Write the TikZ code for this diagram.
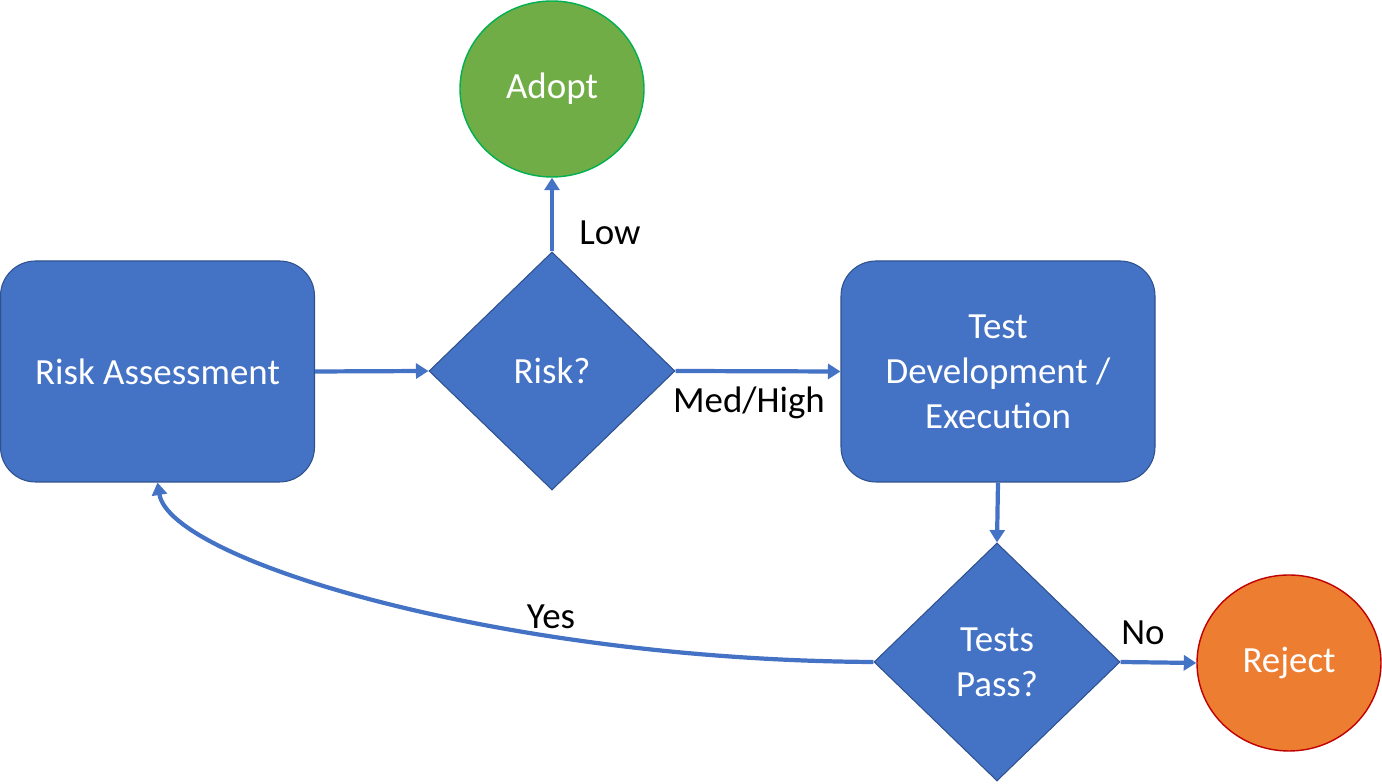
\documentclass[tikz,border=0pt]{standalone}
\usepackage{fontspec}
\setmainfont{Carlito}
\usepackage{tikz}
\usetikzlibrary{arrows.meta, shapes.geometric}
\definecolor{kblue}{HTML}{4472C4}
\definecolor{kbluedark}{HTML}{2F528F}
\definecolor{kgreen}{HTML}{70AD47}
\definecolor{kgreenline}{HTML}{00B050}
\definecolor{korange}{HTML}{ED7D31}
\definecolor{kred}{HTML}{C00000}

\begin{document}
\begin{tikzpicture}[x=1cm, y=1cm,
  bigfont/.style={font=\fontsize{21}{25.6}\selectfont},
  stepbox/.style={bigfont, draw=kbluedark, fill=kblue, line width=0.6pt, rounded corners=0.7cm,
    minimum width=6.28cm, minimum height=4.42cm, text=white, align=center},
  decision/.style={bigfont, diamond, draw=kbluedark, fill=kblue, line width=0.6pt,
    minimum width=4.92cm, minimum height=4.76cm, inner sep=0pt, text=white, align=center},
  outcome/.style={bigfont, ellipse, line width=0.8pt, minimum width=3.68cm, minimum height=3.52cm, text=white},
  flow/.style={draw=kblue, line width=2.4pt, -{Triangle[length=0.25cm, width=0.30cm]}},
  lbl/.style={bigfont, text=black}]
\useasboundingbox (0,0) rectangle (27.64,15.68);
\node[outcome, fill=kgreen, draw=kgreenline] (adopt) at (11.04,13.90) {Adopt};
\node[stepbox] (riskbox) at (3.15,8.25) {Risk Assessment};
\node[decision] (riskq) at (11.04,8.26) {Risk?};
\node[stepbox] (testbox) at (19.96,8.25) {Test\\Development /\\Execution};
\node[decision] (testq) at (19.94,2.44) {Tests\\Pass?};
\node[outcome, fill=korange, draw=kred] (reject) at (25.78,2.42) {Reject};
% connectors
\draw[flow] (riskbox.east) -- (riskq.west);
\draw[flow] (riskq.north) -- (adopt.south);
\draw[flow] (riskq.east) -- (testbox.west);
\draw[flow] (testbox.south) -- (testq.north);
\draw[flow] (testq.east) -- (reject.west);
\draw[flow] (testq.west) .. controls (10.0,2.48) and (3.40,4.48) .. (riskbox.south);
% labels
\node[lbl] (low) at (12.20,11.02) {Low};
\node[lbl] (medhigh) at (14.98,7.62) {Med/High};
\node[lbl] (no) at (22.86,3.02) {No};
\node[lbl] (yes) at (11.02,3.34) {Yes};
\end{tikzpicture}
\end{document}
